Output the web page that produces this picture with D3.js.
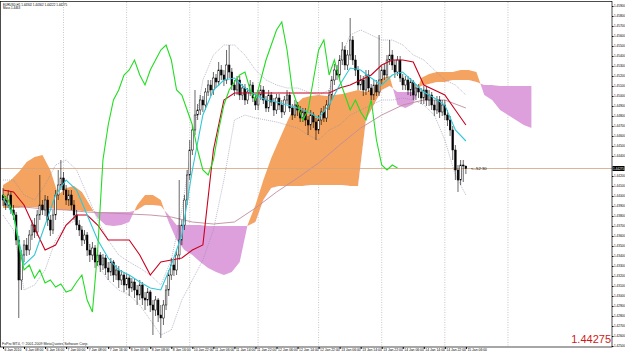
<!DOCTYPE html>
<html>
<head>
<meta charset="utf-8">
<script src="https://cdn.jsdelivr.net/npm/d3@7"></script>
<style>
  body { margin: 0; background: #fff; }
  svg { display: block; font-family: "Liberation Sans", Arial, sans-serif; }
</style>
</head>
<body>
<div id="chart"></div>
<script>
// EURUSD H1, 6 Jan 2010 00:00 .. 15 Jan 2010 06:00 (177 bars)
const open = [1.4401,1.4396,1.4391,1.4401,1.4386,1.4381,1.4356,1.4316,1.4341,1.4351,
 1.4346,1.4361,1.4371,1.4364,1.4381,1.4391,1.4386,1.4396,1.4376,1.4366,
 1.4381,1.4401,1.4411,1.4418,1.4406,1.4396,1.4401,1.4391,1.4381,1.4371,
 1.4366,1.4356,1.4361,1.4346,1.4341,1.4348,1.4334,1.4341,1.4331,1.4338,
 1.4328,1.4324,1.4334,1.4321,1.4326,1.4316,1.4321,1.4311,1.4318,1.4308,
 1.4314,1.4306,1.4301,1.4311,1.4298,1.4296,1.4304,1.4291,1.4286,1.4296,
 1.4281,1.4278,1.4291,1.4306,1.4321,1.4331,1.4326,1.4341,1.4356,1.4371,
 1.4396,1.4421,1.4446,1.4466,1.4481,1.4486,1.4496,1.4491,1.4504,1.4511,
 1.4506,1.4518,1.4514,1.4526,1.4521,1.4516,1.4531,1.4524,1.4511,1.4506,
 1.4516,1.4501,1.4508,1.4496,1.4504,1.4511,1.4498,1.4491,1.4501,1.4506,
 1.4496,1.4488,1.4501,1.4494,1.4486,1.4498,1.4491,1.4484,1.4496,1.4501,
 1.4488,1.4481,1.4491,1.4486,1.4478,1.4484,1.4476,1.4471,1.4481,1.4474,
 1.4466,1.4476,1.4484,1.4478,1.4491,1.4501,1.4516,1.4526,1.4521,1.4536,
 1.4546,1.4531,1.4541,1.4556,1.4536,1.4526,1.4511,1.4516,1.4506,1.4521,
 1.4508,1.4501,1.4511,1.4504,1.4516,1.4526,1.4521,1.4536,1.4541,1.4531,
 1.4524,1.4536,1.4518,1.4511,1.4516,1.4506,1.4514,1.4501,1.4508,1.4504,
 1.4498,1.4506,1.4496,1.4501,1.4491,1.4486,1.4496,1.4484,1.4491,1.4481,
 1.4476,1.4466,1.4446,1.4426,1.4416,1.4431,1.4430];
const high = [1.4408,1.4400,1.4406,1.4404,1.4391,1.4384,1.4360,1.4346,1.4356,1.4358,
 1.4366,1.4376,1.4378,1.4386,1.4421,1.4396,1.4401,1.4400,1.4381,1.4386,
 1.4406,1.4426,1.4436,1.4424,1.4411,1.4406,1.4406,1.4396,1.4386,1.4376,
 1.4370,1.4366,1.4364,1.4352,1.4354,1.4351,1.4346,1.4344,1.4342,1.4341,
 1.4334,1.4338,1.4336,1.4331,1.4330,1.4326,1.4324,1.4322,1.4321,1.4318,
 1.4317,1.4311,1.4316,1.4314,1.4304,1.4308,1.4306,1.4296,1.4300,1.4298,
 1.4291,1.4296,1.4311,1.4326,1.4338,1.4336,1.4346,1.4416,1.4376,1.4401,
 1.4426,1.4456,1.4471,1.4506,1.4492,1.4501,1.4500,1.4508,1.4516,1.4516,
 1.4524,1.4522,1.4534,1.4531,1.4526,1.4546,1.4551,1.4528,1.4516,1.4520,
 1.4520,1.4512,1.4512,1.4508,1.4516,1.4514,1.4502,1.4506,1.4511,1.4510,
 1.4500,1.4506,1.4504,1.4498,1.4502,1.4502,1.4496,1.4500,1.4506,1.4504,
 1.4492,1.4496,1.4494,1.4490,1.4488,1.4488,1.4480,1.4486,1.4484,1.4478,
 1.4481,1.4488,1.4490,1.4496,1.4506,1.4520,1.4532,1.4531,1.4541,1.4554,
 1.4550,1.4546,1.4578,1.4560,1.4541,1.4530,1.4521,1.4520,1.4526,1.4526,
 1.4512,1.4516,1.4516,1.4561,1.4530,1.4532,1.4541,1.4556,1.4546,1.4536,
 1.4540,1.4540,1.4522,1.4520,1.4520,1.4518,1.4516,1.4512,1.4512,1.4508,
 1.4510,1.4510,1.4506,1.4504,1.4496,1.4500,1.4500,1.4496,1.4496,1.4486,
 1.4480,1.4470,1.4451,1.4431,1.4436,1.4436,1.4430];
const low = [1.4390,1.4386,1.4388,1.4382,1.4376,1.4351,1.4278,1.4306,1.4334,1.4340,
 1.4341,1.4356,1.4358,1.4360,1.4376,1.4381,1.4380,1.4370,1.4360,1.4362,
 1.4376,1.4396,1.4406,1.4401,1.4391,1.4390,1.4386,1.4376,1.4366,1.4360,
 1.4350,1.4352,1.4340,1.4334,1.4336,1.4328,1.4330,1.4324,1.4326,1.4321,
 1.4316,1.4320,1.4314,1.4316,1.4308,1.4311,1.4304,1.4306,1.4300,1.4304,
 1.4298,1.4291,1.4296,1.4291,1.4286,1.4290,1.4284,1.4261,1.4280,1.4274,
 1.4258,1.4271,1.4286,1.4300,1.4316,1.4320,1.4321,1.4336,1.4351,1.4366,
 1.4391,1.4416,1.4441,1.4461,1.4476,1.4481,1.4484,1.4486,1.4500,1.4500,
 1.4501,1.4508,1.4510,1.4516,1.4510,1.4512,1.4518,1.4506,1.4500,1.4501,
 1.4496,1.4496,1.4491,1.4492,1.4500,1.4494,1.4486,1.4486,1.4496,1.4492,
 1.4484,1.4484,1.4490,1.4480,1.4482,1.4486,1.4478,1.4481,1.4492,1.4484,
 1.4476,1.4478,1.4480,1.4474,1.4474,1.4470,1.4461,1.4466,1.4468,1.4456,
 1.4462,1.4471,1.4474,1.4474,1.4486,1.4496,1.4511,1.4516,1.4516,1.4531,
 1.4526,1.4526,1.4536,1.4531,1.4520,1.4506,1.4506,1.4500,1.4501,1.4504,
 1.4496,1.4496,1.4500,1.4500,1.4511,1.4516,1.4518,1.4531,1.4526,1.4518,
 1.4520,1.4514,1.4506,1.4506,1.4501,1.4500,1.4496,1.4496,1.4498,1.4492,
 1.4492,1.4490,1.4490,1.4486,1.4480,1.4482,1.4478,1.4480,1.4476,1.4470,
 1.4460,1.4436,1.4416,1.4404,1.4411,1.4414,1.4422];
const close = [1.4396,1.4391,1.4401,1.4386,1.4381,1.4356,1.4316,1.4341,1.4351,1.4346,
 1.4361,1.4371,1.4364,1.4381,1.4391,1.4386,1.4396,1.4376,1.4366,1.4381,
 1.4401,1.4411,1.4418,1.4406,1.4396,1.4401,1.4391,1.4381,1.4371,1.4366,
 1.4356,1.4361,1.4346,1.4341,1.4348,1.4334,1.4341,1.4331,1.4338,1.4328,
 1.4324,1.4334,1.4321,1.4326,1.4316,1.4321,1.4311,1.4318,1.4308,1.4314,
 1.4306,1.4301,1.4311,1.4298,1.4296,1.4304,1.4291,1.4286,1.4296,1.4281,
 1.4278,1.4291,1.4306,1.4321,1.4331,1.4326,1.4341,1.4356,1.4371,1.4396,
 1.4421,1.4446,1.4466,1.4481,1.4486,1.4496,1.4491,1.4504,1.4511,1.4506,
 1.4518,1.4514,1.4526,1.4521,1.4516,1.4531,1.4524,1.4511,1.4506,1.4516,
 1.4501,1.4508,1.4496,1.4504,1.4511,1.4498,1.4491,1.4501,1.4506,1.4496,
 1.4488,1.4501,1.4494,1.4486,1.4498,1.4491,1.4484,1.4496,1.4501,1.4488,
 1.4481,1.4491,1.4486,1.4478,1.4484,1.4476,1.4471,1.4481,1.4474,1.4466,
 1.4476,1.4484,1.4478,1.4491,1.4501,1.4516,1.4526,1.4521,1.4536,1.4546,
 1.4531,1.4541,1.4556,1.4536,1.4526,1.4511,1.4516,1.4506,1.4521,1.4508,
 1.4501,1.4511,1.4504,1.4516,1.4526,1.4521,1.4536,1.4541,1.4531,1.4524,
 1.4536,1.4518,1.4511,1.4516,1.4506,1.4514,1.4501,1.4508,1.4504,1.4498,
 1.4506,1.4496,1.4501,1.4491,1.4486,1.4496,1.4484,1.4491,1.4481,1.4476,
 1.4466,1.4446,1.4426,1.4416,1.4431,1.4430,1.44275];

// indicator lines, one value every `step` bars
const tenkanStep = 4;
const tenkan = [1.4398,1.4381,1.4331,1.4341,1.4371,1.4401,1.4416,1.4406,1.4381,1.4356,
 1.4338,1.4326,1.4321,1.4314,1.4308,1.4306,1.4331,1.4361,1.4426,1.4481,
 1.4506,1.4516,1.4518,1.4508,1.4501,1.4496,1.4494,1.4491,1.4488,1.4484,
 1.4478,1.4491,1.4511,1.4528,1.4526,1.4518,1.4511,1.4521,1.4524,1.4514,
 1.4504,1.4498,1.4491,1.4466,1.4455];
const kijunStep = 4;
const kijun = [1.4406,1.4404,1.4391,1.4368,1.4346,1.4351,1.4371,1.4381,1.4381,1.4371,
 1.4356,1.4356,1.4356,1.4341,1.4321,1.4334,1.4336,1.4338,1.4346,1.4351,
 1.4446,1.4496,1.4503,1.4503,1.4503,1.4503,1.4503,1.4503,1.4503,1.4503,
 1.4503,1.4503,1.4508,1.4511,1.4516,1.4521,1.4531,1.4536,1.4536,1.4534,
 1.4511,1.4506,1.4501,1.4486,1.4471];
const chikouStep = 2;
const chikou = [1.4401,1.4396,1.4381,1.4351,1.4326,1.4331,1.4318,1.4326,1.4313,1.4316,
 1.4309,1.4312,1.4304,1.4306,1.4314,1.4321,1.4296,1.4284,1.4346,1.4436,
 1.4471,1.4496,1.4506,1.4521,1.4526,1.4536,1.4521,1.4511,1.4526,1.4536,
 1.4546,1.4551,1.4536,1.4506,1.4501,1.4486,1.4471,1.4446,1.4426,1.4421,
 1.4436,1.4466,1.4491,1.4506,1.4514,1.4521,1.4524,1.4506,1.4496,1.4516,
 1.4536,1.4551,1.4566,1.4574,1.4546,1.4506,1.4491,1.4476,1.4486,1.4516,
 1.4546,1.4556,1.4521,1.4536,1.4516,1.4501,1.4486,1.4496,1.4484,1.4476,
 1.4496,1.4456,1.4431,1.4426,1.4431,1.4428];
const spanStep = 3;
const spanA = [1.4411,1.4416,1.4424,1.4434,1.4439,1.4441,1.4426,1.4401,1.4408,1.4410,
 1.4404,1.4391,1.4378,1.4371,1.4370,1.4371,1.4374,1.4391,1.4401,1.4401,
 1.4396,1.4374,1.4356,1.4346,1.4341,1.4334,1.4328,1.4324,1.4321,1.4324,
 1.4334,1.4371,1.4391,1.4416,1.4438,1.4456,1.4474,1.4491,1.4498,1.4500,
 1.4501,1.4500,1.4501,1.4502,1.4504,1.4506,1.4504,1.4508,1.4518,1.4520,
 1.4491,1.4488,1.4492,1.4518,1.4522,1.4524,1.4524,1.4524,1.4526,1.4526,
 1.4524,1.4501,1.4496,1.4486,1.4481,1.4476,1.4471,1.4468];
const spanB = [1.4388,1.4388,1.4388,1.4389,1.4389,1.4388,1.4388,1.4386,1.4386,1.4386,
 1.4385,1.4385,1.4384,1.4384,1.4384,1.4384,1.4384,1.4386,1.4391,1.4391,
 1.4390,1.4381,1.4371,1.4371,1.4371,1.4371,1.4370,1.4370,1.4370,1.4370,
 1.4370,1.4370,1.4374,1.4396,1.4408,1.4410,1.4410,1.4410,1.4410,1.4411,
 1.4411,1.4411,1.4411,1.4411,1.4410,1.4410,1.4476,1.4491,1.4506,1.4510,
 1.4504,1.4504,1.4504,1.4510,1.4512,1.4514,1.4514,1.4516,1.4516,1.4516,
 1.4514,1.4511,1.4511,1.4510,1.4510,1.4510,1.4510,1.4510];
const maStep = 8;
const ma = [1.4391,1.4389,1.4387,1.4386,1.4384,1.4383,1.4382,1.4381,1.4379,1.4374,
 1.4372,1.4374,1.4388,1.4404,1.4418,1.4433,1.4451,1.4468,1.4481,1.4491,
 1.4496,1.4496,1.4488];
const bandStep = 4;
const bandUp = [1.4416,1.4416,1.4401,1.4396,1.4411,1.4431,1.4436,1.4426,1.4401,1.4376,
 1.4356,1.4341,1.4334,1.4328,1.4321,1.4311,1.4336,1.4386,1.4456,1.4516,
 1.4541,1.4551,1.4551,1.4541,1.4526,1.4516,1.4511,1.4508,1.4508,1.4504,
 1.4501,1.4506,1.4536,1.4561,1.4566,1.4561,1.4556,1.4556,1.4551,1.4541,
 1.4536,1.4526,1.4516,1.4511,1.4501];
const bandLow = [1.4381,1.4366,1.4306,1.4311,1.4326,1.4356,1.4371,1.4376,1.4356,1.4331,
 1.4316,1.4306,1.4301,1.4291,1.4276,1.4261,1.4266,1.4296,1.4316,1.4336,
 1.4366,1.4416,1.4476,1.4481,1.4478,1.4476,1.4474,1.4471,1.4468,1.4461,
 1.4456,1.4466,1.4471,1.4481,1.4486,1.4491,1.4496,1.4496,1.4498,1.4496,
 1.4491,1.4481,1.4456,1.4421,1.4401];

const bid = 1.44275;
const priceTicks = d3.range(1.4250, 1.45905, 0.001);
const timeTickBars = d3.range(0, 177, 8);
const timeLabels = ['6 Jan 2010','6 Jan 08:00','6 Jan 16:00','7 Jan 00:00','7 Jan 08:00','7 Jan 16:00',
 '8 Jan 00:00','8 Jan 08:00','8 Jan 16:00','10 Jan 22:00','11 Jan 06:00','11 Jan 14:00','11 Jan 22:00',
 '12 Jan 06:00','12 Jan 14:00','12 Jan 22:00','13 Jan 06:00','13 Jan 14:00','13 Jan 22:00',
 '14 Jan 06:00','14 Jan 14:00','14 Jan 22:00','15 Jan 06:00'];
const gridBars = [23, 47, 71, 97, 120, 144, 168, 192];

const W = 625, H = 353;
const plotRight = 612, plotTop = 2, plotBottom = 347;

const svg = d3.select('#chart').append('svg')
    .attr('width', W)
    .attr('height', H);

const x = d3.scaleLinear().domain([0, 176]).range([3, 3 + 2.63 * 176]);
const y = d3.scaleLinear().domain([1.4596 - plotBottom / 10000, 1.4596 - plotTop / 10000]).range([plotBottom, plotTop]);

// grid
svg.append('g').selectAll('line')
    .data(gridBars)
    .join('line')
    .attr('x1', d => x(d)).attr('x2', d => x(d))
    .attr('y1', plotTop).attr('y2', plotBottom)
    .attr('stroke', '#b8b8b8')
    .attr('stroke-width', 0.8)
    .attr('stroke-dasharray', '1,1.5');

// ichimoku cloud
const cloud = spanA.map((a, k) => ({i: k * spanStep, a: a, b: spanB[k]}));
const defs = svg.append('defs');
defs.append('clipPath').attr('id', 'aboveB')
    .append('path')
    .attr('d', d3.area().x(d => x(d.i)).y0(0).y1(d => y(d.b))(cloud));
defs.append('clipPath').attr('id', 'belowB')
    .append('path')
    .attr('d', d3.area().x(d => x(d.i)).y0(d => y(d.b)).y1(H)(cloud));
const band = d3.area().x(d => x(d.i)).y0(d => y(d.a)).y1(d => y(d.b));
svg.append('path').attr('d', band(cloud)).attr('fill', '#f4a460').attr('clip-path', 'url(#aboveB)');
svg.append('path').attr('d', band(cloud)).attr('fill', '#dda0dd').attr('clip-path', 'url(#belowB)');

function stepLine(values, step) {
    return d3.line().x((d, k) => x(k * step)).y(d => y(d))(values);
}

// slow average and envelope
svg.append('path').attr('d', stepLine(ma, maStep))
    .attr('fill', 'none').attr('stroke', '#c08c9c').attr('stroke-width', 0.9);
[bandUp, bandLow].forEach(b => {
    svg.append('path').attr('d', stepLine(b, bandStep))
        .attr('fill', 'none').attr('stroke', '#8c8ca8').attr('stroke-width', 0.6)
        .attr('stroke-dasharray', '1,1');
});

// bid line
svg.append('line')
    .attr('x1', 0).attr('x2', plotRight)
    .attr('y1', y(bid)).attr('y2', y(bid))
    .attr('stroke', '#d4a27a').attr('stroke-width', 0.8);

// candles
const bars = d3.range(open.length);
const candles = svg.append('g');
candles.selectAll('line')
    .data(bars)
    .join('line')
    .attr('x1', i => x(i)).attr('x2', i => x(i))
    .attr('y1', i => y(high[i])).attr('y2', i => y(low[i]))
    .attr('stroke', '#000').attr('stroke-width', 0.6);
candles.selectAll('rect')
    .data(bars)
    .join('rect')
    .attr('x', i => x(i) - 0.85)
    .attr('width', 1.7)
    .attr('y', i => y(Math.max(open[i], close[i])))
    .attr('height', i => Math.max(0.6, Math.abs(y(open[i]) - y(close[i]))))
    .attr('fill', i => close[i] >= open[i] ? '#fff' : '#000')
    .attr('stroke', '#000').attr('stroke-width', 0.5);

// ichimoku lines
svg.append('path').attr('d', stepLine(kijun, kijunStep))
    .attr('fill', 'none').attr('stroke', '#c8001e').attr('stroke-width', 1.1);
svg.append('path').attr('d', stepLine(tenkan, tenkanStep))
    .attr('fill', 'none').attr('stroke', '#30c8d8').attr('stroke-width', 1.1);
svg.append('path').attr('d', stepLine(chikou, chikouStep))
    .attr('fill', 'none').attr('stroke', '#22dd22').attr('stroke-width', 1.1);

// frame
svg.append('rect')
    .attr('x', 0.5).attr('y', 1.5)
    .attr('width', plotRight - 0.5).attr('height', plotBottom - 1.5)
    .attr('fill', 'none').attr('stroke', '#000').attr('stroke-width', 0.7);

// axes (the tick hidden under the bid marker is left out, as the terminal does)
const yAxis = d3.axisRight(y)
    .tickValues(priceTicks.filter(p => Math.abs(y(p) - y(bid)) > 4))
    .tickSize(1.5).tickPadding(0.5).tickFormat(d3.format('.5f'));
const gy = svg.append('g').attr('transform', 'translate(' + plotRight + ',0)').call(yAxis);
gy.select('.domain').remove();
gy.selectAll('text').attr('font-size', 3.05).attr('font-family', '"Liberation Sans", Arial, sans-serif');

const xAxis = d3.axisBottom(x).tickValues(timeTickBars).tickSize(2).tickPadding(0).tickFormat((d, k) => timeLabels[k]);
const gx = svg.append('g').attr('transform', 'translate(0,' + plotBottom + ')').call(xAxis);
gx.select('.domain').remove();
gx.selectAll('text').attr('font-size', 3.4).attr('text-anchor', 'start').attr('dx', 1)
    .attr('font-family', '"Liberation Sans", Arial, sans-serif');

// current price marker on the axis
svg.append('rect').attr('x', plotRight + 0.5).attr('y', y(bid) - 2.5).attr('width', 12).attr('height', 5).attr('fill', '#000');
svg.append('text').attr('x', plotRight + 1).attr('y', y(bid) + 1.2)
    .attr('font-size', 3.05).attr('fill', '#fff').text(d3.format('.5f')(bid));

// texts
svg.append('text').attr('x', 3).attr('y', 5.6).attr('font-size', 3).attr('fill', '#000')
    .text('EURUSD,H1  1.44302 1.44302 1.44222 1.44275');
svg.append('text').attr('x', 3).attr('y', 9).attr('font-size', 3).attr('fill', '#000')
    .text('Mass 1.4463');
svg.append('text').attr('x', x(176) + 5).attr('y', y(bid) + 1.5).attr('font-size', 4.2).attr('fill', '#000')
    .text('<--52:30');
svg.append('text').attr('x', 2).attr('y', 344.5).attr('font-size', 3.6).attr('fill', '#222')
    .text('FxPro MT4, \u00a9 2001-2009 MetaQuotes Software Corp.');
svg.append('text').attr('x', 611).attr('y', 343).attr('text-anchor', 'end')
    .attr('font-size', 11).attr('fill', '#d01818')
    .text(d3.format('.5f')(bid));
</script>
</body>
</html>
